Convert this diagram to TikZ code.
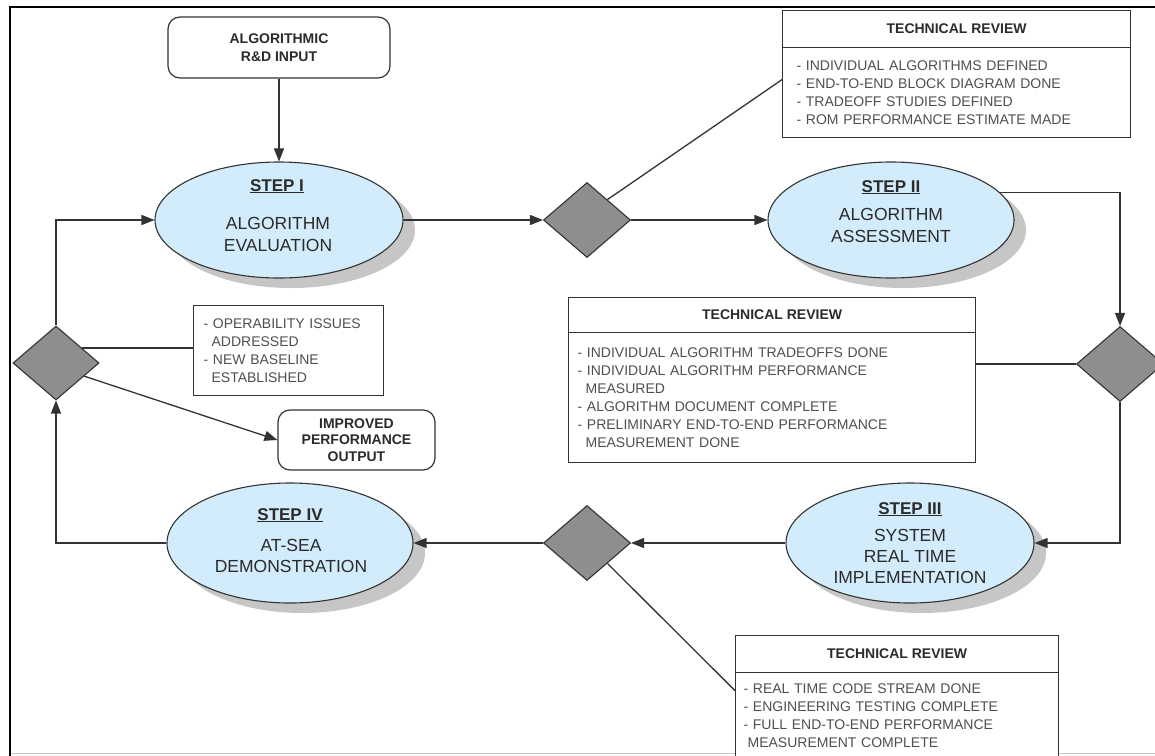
\documentclass[tikz,border=0pt]{standalone}
\usepackage{fontspec}
\setmainfont{Liberation Sans}
\usetikzlibrary{shapes.geometric, arrows.meta, calc, shadows}

\definecolor{stepfill}{HTML}{D3ECFB}
\definecolor{shadowgray}{HTML}{C6C6C6}
\definecolor{gatefill}{HTML}{8E8E8E}
\definecolor{edgegray}{HTML}{333333}
\definecolor{txtdark}{HTML}{2B2B2B}
\definecolor{txtbody}{HTML}{4F4F4F}

\begin{document}
\begin{tikzpicture}[x=1pt, y=-1pt,
  conn/.style={draw=edgegray, line width=1.3pt},
  arr/.style={conn, -{Triangle[length=13pt,width=10pt]}},
  stepshape/.style={ellipse, draw=edgegray, line width=1.1pt, fill=stepfill, inner sep=0pt,
    drop shadow={shadow xshift=12pt, shadow yshift=-10pt, fill=shadowgray, opacity=1}},
  steptitle/.style={font=\fontsize{17}{20}\selectfont\bfseries, text=txtdark, anchor=base, inner sep=0pt},
  stepline/.style={font=\fontsize{17.5}{21}\selectfont, text=txtdark, anchor=base, inner sep=0pt},
  gate/.style={diamond, draw=edgegray, line width=1.1pt, fill=gatefill, inner sep=0pt,
    minimum width=87pt, minimum height=75pt},
  roundbox/.style={draw=edgegray, line width=1.2pt, rounded corners=12pt, fill=white,
    font=\fontsize{14}{18}\selectfont\bfseries, text=txtdark, align=center, inner sep=0pt},
  revhead/.style={draw=edgegray, line width=1.2pt, fill=white, anchor=north west, inner sep=0pt,
    font=\fontsize{14}{17}\selectfont\bfseries, text=txtdark},
  revbody/.style={draw=edgegray, line width=1.2pt, fill=white, anchor=north west, inner ysep=0pt,
    font=\fontsize{14}{18}\selectfont, text=txtbody, align=left}
]
\clip (0,0) rectangle (1155,755);
\fill[white] (0,0) rectangle (1155,755);

% page frame
\draw[gray!45, line width=1pt] (10,753) -- (1160,753);
\draw[black, line width=2.6pt] (10,760) -- (10,7) -- (1160,7);

% input and output boxes
\node[roundbox, minimum width=222pt, minimum height=61pt] (inp) at (279,47.5) {ALGORITHMIC\\R\&D INPUT};
\node[roundbox, font=\fontsize{14}{16.5}\selectfont\bfseries, minimum width=157pt, minimum height=60pt] (imp) at (356.5,440) {IMPROVED\\PERFORMANCE\\OUTPUT};

% process steps
\node[stepshape, minimum width=248pt, minimum height=116pt] (s1) at (279,220) {};
\node[steptitle] (s1h) at (277,191) {\underline{STEP I}};
\node[stepline] (s1a) at (278,229) {ALGORITHM};
\node[stepline] (s1b) at (278,251) {EVALUATION};

\node[stepshape, minimum width=246pt, minimum height=116pt] (s2) at (891,220) {};
\node[steptitle] (s2h) at (891,192) {\underline{STEP II}};
\node[stepline] (s2a) at (891,220) {ALGORITHM};
\node[stepline] (s2b) at (891,242) {ASSESSMENT};

\node[stepshape, minimum width=248pt, minimum height=120pt] (s3) at (910,543) {};
\node[steptitle] (s3h) at (910,514) {\underline{STEP III}};
\node[stepline] (s3a) at (910,541) {SYSTEM};
\node[stepline] (s3b) at (910,562) {REAL TIME};
\node[stepline] (s3c) at (910,583) {IMPLEMENTATION};

\node[stepshape, minimum width=246pt, minimum height=120pt] (s4) at (290,543) {};
\node[steptitle] (s4h) at (290,520) {\underline{STEP IV}};
\node[stepline] (s4a) at (291,551) {AT-SEA};
\node[stepline] (s4b) at (291,572) {DEMONSTRATION};

% decision gates
\node[gate] (d1) at (587,220) {};
\node[gate] (d3) at (1120,364) {};
\node[gate] (d4) at (587,543) {};
\node[gate, minimum width=86pt, minimum height=74pt] (d5) at (56,363) {};

% review boxes
\node[revhead, minimum width=348pt, minimum height=37pt] (r1h) at (782,10) {TECHNICAL REVIEW};
\node[revbody, inner xsep=14pt, text width=320pt, minimum height=90pt] (r1b) at (782,47)
  {- INDIVIDUAL ALGORITHMS DEFINED\\- END-TO-END BLOCK DIAGRAM DONE\\- TRADEOFF STUDIES DEFINED\\- ROM PERFORMANCE ESTIMATE MADE};

\node[revhead, minimum width=407pt, minimum height=35pt] (r2h) at (568,297) {TECHNICAL REVIEW};
\node[revbody, inner xsep=9pt, text width=389pt, minimum height=130pt] (r2b) at (568,332)
  {- INDIVIDUAL ALGORITHM TRADEOFFS DONE\\- INDIVIDUAL ALGORITHM PERFORMANCE\\\hspace*{8pt}MEASURED\\- ALGORITHM DOCUMENT COMPLETE\\- PRELIMINARY END-TO-END PERFORMANCE\\\hspace*{8pt}MEASUREMENT DONE};

\node[revhead, minimum width=323pt, minimum height=37pt] (r3h) at (735,635) {TECHNICAL REVIEW};
\node[revbody, inner xsep=8pt, text width=307pt, minimum height=86pt] (r3b) at (735,672)
  {- REAL TIME CODE STREAM DONE\\- ENGINEERING TESTING COMPLETE\\- FULL END-TO-END PERFORMANCE\\\hspace*{4pt}MEASUREMENT COMPLETE};

\node[revbody, inner xsep=10pt, text width=170pt, minimum height=90pt] (sb) at (193,305)
  {- OPERABILITY ISSUES\\\hspace*{8pt}ADDRESSED\\- NEW BASELINE\\\hspace*{8pt}ESTABLISHED};

% connectors
\draw[arr] (inp.south) -- (s1.north);
\draw[arr] (s1.east) -- (d1.west);
\draw[arr] (d1.east) -- (s2.west);
\draw[conn] (d1.45) -- ([yshift=13pt]r1b.west);
\draw[arr] (s2.14) -| (d3.north);
\draw[conn] (d3.west) -- (d3.west -| r2b.east);
\draw[arr] (d3.south) |- (s3.east);
\draw[arr] (s3.west) -- (d4.east);
\draw[arr] (d4.west) -- (s4.east);
\draw[conn] (d4.-45) -- ([yshift=25pt]r3b.west);
\draw[arr] (s4.west) -| (d5.south);
\draw[arr] (d5.north) |- (s1.west);
\draw[conn] (d5.30) -- (d5.30 -| sb.west);
\draw[arr] (d5.-25) -- (imp.west);
\end{tikzpicture}
\end{document}
